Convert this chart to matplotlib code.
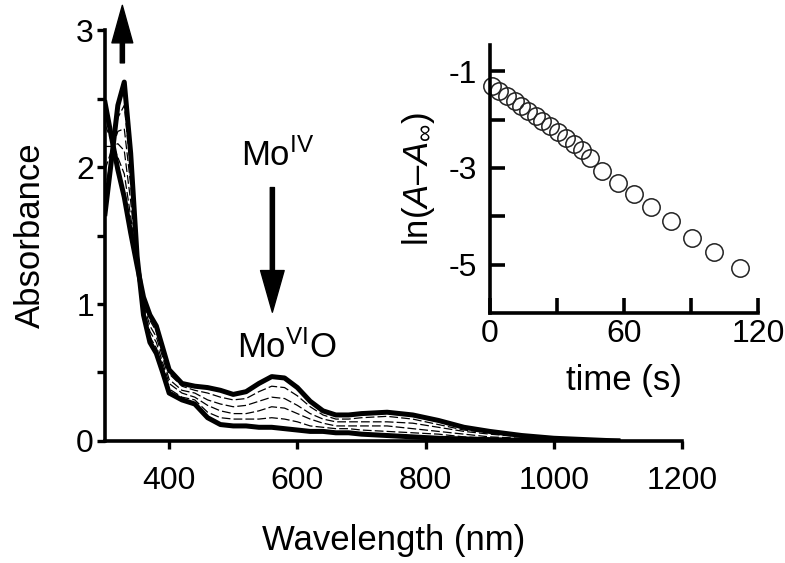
import matplotlib
matplotlib.use("Agg")
import matplotlib.pyplot as plt
from matplotlib.ticker import MultipleLocator, FixedLocator, FuncFormatter

plt.rcParams['font.family'] = ['Liberation Sans', 'DejaVu Sans']
plt.rcParams['mathtext.fontset'] = 'custom'
plt.rcParams['mathtext.rm'] = 'Liberation Sans'
plt.rcParams['mathtext.it'] = 'Liberation Sans:italic'
plt.rcParams['axes.unicode_minus'] = False

# ==================== DATA ====================
wavelength = [300, 310, 320, 330, 340, 350, 360, 370, 380, 390, 400, 420, 440, 460,
              480, 500, 520, 540, 560, 580, 600, 620, 640, 660, 680, 700, 740, 780,
              820, 860, 900, 950, 1000, 1050, 1100]

# Mo(IV) start spectrum (thick)
abs_start = [2.47, 2.22, 1.98, 1.78, 1.52, 1.28, 1.05, 0.92, 0.84, 0.68, 0.52, 0.42, 0.40, 0.39,
             0.37, 0.34, 0.36, 0.42, 0.47, 0.46, 0.39, 0.29, 0.22, 0.19, 0.19, 0.20, 0.21, 0.19,
             0.15, 0.10, 0.07, 0.04, 0.02, 0.01, 0.0]

# Mo(VI)O end spectrum (thick)
abs_end = [1.66, 2.05, 2.45, 2.62, 2.10, 1.35, 0.92, 0.72, 0.64, 0.50, 0.35, 0.30, 0.27, 0.17,
           0.12, 0.11, 0.11, 0.10, 0.10, 0.09, 0.08, 0.07, 0.07, 0.06, 0.06, 0.05, 0.04, 0.03,
           0.02, 0.015, 0.01, 0.005, 0.0, 0.0, 0.0]

# intermediate spectra (thin)
abs_mid1 = [2.31, 2.19, 2.07, 1.95, 1.64, 1.29, 1.02, 0.88, 0.80, 0.64, 0.49, 0.40, 0.37, 0.35,
            0.32, 0.30, 0.31, 0.36, 0.40, 0.39, 0.33, 0.25, 0.19, 0.16, 0.16, 0.17, 0.18, 0.16,
            0.12, 0.08, 0.06, 0.03, 0.02, 0.01, 0.0]
abs_mid2 = [2.15, 2.15, 2.17, 2.12, 1.75, 1.31, 1.00, 0.84, 0.76, 0.61, 0.45, 0.37, 0.35, 0.30,
            0.27, 0.25, 0.26, 0.29, 0.32, 0.31, 0.26, 0.20, 0.16, 0.14, 0.14, 0.14, 0.14, 0.13,
            0.10, 0.07, 0.05, 0.03, 0.01, 0.01, 0.0]
abs_mid3 = [1.98, 2.12, 2.26, 2.28, 1.87, 1.32, 0.97, 0.80, 0.72, 0.57, 0.42, 0.35, 0.32, 0.26,
            0.22, 0.20, 0.20, 0.22, 0.25, 0.24, 0.20, 0.16, 0.13, 0.11, 0.11, 0.11, 0.11, 0.09,
            0.07, 0.05, 0.03, 0.02, 0.01, 0.0, 0.0]
abs_mid4 = [1.82, 2.08, 2.36, 2.45, 1.98, 1.34, 0.95, 0.76, 0.68, 0.54, 0.38, 0.32, 0.30, 0.21,
            0.17, 0.16, 0.16, 0.16, 0.17, 0.16, 0.14, 0.11, 0.10, 0.09, 0.09, 0.08, 0.07, 0.06,
            0.05, 0.03, 0.02, 0.01, 0.0, 0.0, 0.0]

# inset: first-order plot
time_s = [1, 4, 7.5, 11, 14, 17, 20.5, 23.5, 27, 30.5, 34, 37.5, 41, 45, 50, 57.5,
          64.5, 72, 81, 90.5, 100.5, 112]
ln_a = [-1.31, -1.42, -1.52, -1.62, -1.72, -1.82, -1.93, -2.03, -2.14, -2.26, -2.38,
        -2.51, -2.64, -2.80, -3.06, -3.31, -3.53, -3.81, -4.09, -4.45, -4.73, -5.07]

# ==================== PLOT ====================
fig = plt.figure(figsize=(7.85, 5.63), dpi=100)
ax = fig.add_axes([0.1338, 0.2167, 0.735, 0.730])

for s in [abs_mid1, abs_mid2, abs_mid3, abs_mid4]:
    ax.plot(wavelength, s, color='k', lw=0.9, dashes=(7, 2.5))
ax.plot(wavelength, abs_start, color='k', lw=3.6, solid_joinstyle='round')
ax.plot(wavelength, abs_end, color='k', lw=3.6, solid_joinstyle='round')

ax.set_xlim(300, 1200)
ax.set_ylim(0, 3)
ax.xaxis.set_major_locator(FixedLocator([400, 600, 800, 1000, 1200]))
ax.yaxis.set_major_locator(MultipleLocator(1))
ax.yaxis.set_minor_locator(MultipleLocator(0.5))
for sp in ['top', 'right']:
    ax.spines[sp].set_visible(False)
for sp in ['left', 'bottom']:
    ax.spines[sp].set_linewidth(2.6)
ax.tick_params(which='both', direction='out', length=6, width=2.4, labelsize=23)
ax.tick_params(axis='y', pad=2)
ax.tick_params(axis='x', pad=12)
ax.set_xlabel("Wavelength (nm)", fontsize=25, labelpad=20)
ax.set_ylabel("Absorbance", fontsize=25, labelpad=21)

# arrows + labels
ax.annotate('', xy=(327, 3.18), xytext=(327, 2.76), annotation_clip=False,
            arrowprops=dict(width=3, headwidth=15, headlength=27, shrink=0, color='k'))
ax.annotate('', xy=(561, 0.94), xytext=(561, 1.85),
            arrowprops=dict(width=3, headwidth=17, headlength=30, shrink=0, color='k'))
ax.text(569, 2.01, r"Mo$^{\mathrm{IV}}$", fontsize=25, ha='center', va='baseline')
ax.text(583, 0.61, r"Mo$^{\mathrm{VI}}$O", fontsize=25, ha='center', va='baseline')

# inset
ins = fig.add_axes([0.6242, 0.444, 0.3414, 0.476])
ins.patch.set_alpha(0)
ins.plot(time_s, ln_a, 'o', mfc='none', mec='#222222', mew=1.1, ms=12.5, clip_on=False)
ins.set_xlim(0, 120)
ins.set_ylim(-6, -0.46)
ins.xaxis.set_major_locator(FixedLocator([0, 60, 120]))
ins.xaxis.set_minor_locator(FixedLocator([30, 90]))
ins.yaxis.set_major_locator(FixedLocator([-1, -3, -5]))
ins.yaxis.set_minor_locator(FixedLocator([-2, -4]))
ins.yaxis.set_major_formatter(FuncFormatter(lambda v, p: f"{v:.0f}"))
for sp in ['top', 'right']:
    ins.spines[sp].set_visible(False)
for sp in ['left', 'bottom']:
    ins.spines[sp].set_linewidth(2.6)
ins.tick_params(which='both', direction='in', length=11, width=2.6, labelsize=23)
ins.tick_params(axis='x', pad=4)
ins.tick_params(axis='y', pad=9)
ins.set_xlabel("time (s)", fontsize=25, labelpad=11)
ins.set_ylabel(r"ln($A$–$A_{\infty}$)", fontsize=25, labelpad=9)

fig.savefig("out.png", dpi=100)
